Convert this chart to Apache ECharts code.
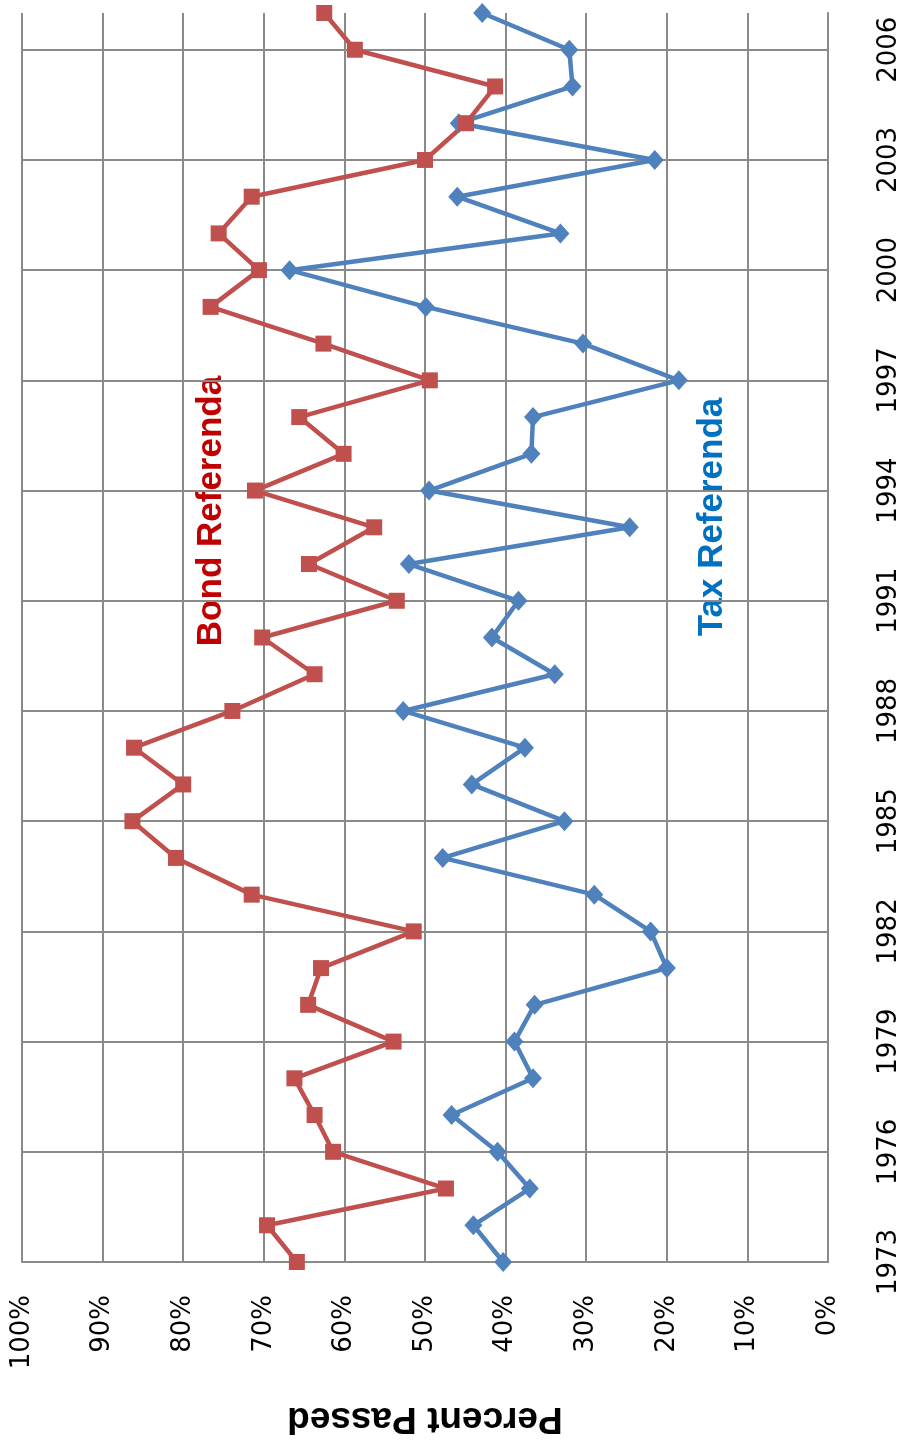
<!DOCTYPE html>
<html>
<head>
<meta charset="utf-8">
<title>Percent Passed: Bond and Tax Referenda</title>
<script src="https://cdn.jsdelivr.net/npm/echarts@6/dist/echarts.min.js"></script>
<style>
  html, body { margin: 0; padding: 0; background: #ffffff; }
  #chart { width: 909px; height: 1445px; }
</style>
</head>
<body>
<div id="chart"></div>
<script>
// Election years, oldest first (drawn bottom to top)
const years = [
  '1973','1974','1975','1976','1977','1978','1979','1980','1981','1982',
  '1983','1984','1985','1986','1987','1988','1989','1990','1991','1992',
  '1993','1994','1995','1996','1997','1998','1999','2000','2001','2002',
  '2003','2004','2005','2006','2007'
];

// Share of bond referenda that passed, percent
const bondPassed = [
  65.9, 69.6, 47.4, 61.4, 63.7, 66.2, 53.9, 64.5, 62.9, 51.4,
  71.5, 80.9, 86.3, 80.0, 86.1, 73.9, 63.7, 70.2, 53.5, 64.4,
  56.3, 71.1, 60.1, 65.6, 49.4, 62.6, 76.6, 70.6, 75.6, 71.5,
  50.0, 44.9, 41.3, 58.7, 62.5
];

// Share of tax referenda that passed, percent
const taxPassed = [
  40.3, 44.0, 37.0, 41.0, 46.7, 36.6, 38.9, 36.4, 20.0, 22.0,
  29.0, 47.8, 32.7, 44.2, 37.6, 52.7, 33.9, 41.7, 38.4, 52.0,
  24.6, 49.5, 36.8, 36.6, 18.5, 30.4, 49.9, 66.8, 33.2, 46.0,
  21.5, 45.8, 31.7, 32.1, 42.9
];

const seriesNames = ['Tax Referenda', 'Bond Referenda'];
const axisTitle = 'Percent Passed';

const gridColor = '#8a8a8a';
const tickFont = 'DejaVu Sans';

const chart = echarts.init(document.getElementById('chart'), null, { renderer: 'canvas' });

const option = {
  animation: false,
  backgroundColor: '#ffffff',
  grid: {
    left: 22, right: 81, top: 13, bottom: 183,
    containLabel: false,
    outerBoundsMode: 'none'
  },
  xAxis: {
    type: 'value',
    min: 0,
    max: 100,
    interval: 10,
    inverse: true,
    position: 'bottom',
    name: axisTitle,
    nameLocation: 'middle',
    nameRotate: 180,
    nameGap: 138,
    nameTextStyle: {
      fontFamily: 'Liberation Sans',
      fontWeight: 'bold',
      fontSize: 37,
      color: '#000000'
    },
    axisLine: { show: true, lineStyle: { color: gridColor, width: 2 } },
    axisTick: { show: false },
    axisLabel: {
      rotate: 90,
      margin: 33,
      formatter: '{value}%',
      fontFamily: tickFont,
      fontSize: 26,
      color: '#000000'
    },
    splitLine: { show: true, lineStyle: { color: gridColor, width: 2 } }
  },
  yAxis: {
    type: 'category',
    data: years,
    boundaryGap: false,
    position: 'right',
    axisLine: { show: true, onZero: false, lineStyle: { color: gridColor, width: 2 } },
    axisTick: { show: false },
    axisLabel: {
      interval: 2,
      rotate: 90,
      margin: 48,
      fontFamily: tickFont,
      fontSize: 26,
      color: '#000000'
    },
    splitLine: { show: true, interval: 2, lineStyle: { color: gridColor, width: 2 } }
  },
  series: [
    {
      name: seriesNames[0],
      type: 'line',
      data: taxPassed,
      symbol: 'diamond',
      symbolSize: [18, 20],
      lineStyle: { color: '#4F81BD', width: 4.5 },
      itemStyle: { color: '#4F81BD' },
      clip: false
    },
    {
      name: seriesNames[1],
      type: 'line',
      data: bondPassed,
      symbol: 'rect',
      symbolSize: 16,
      lineStyle: { color: '#C0504D', width: 4.5 },
      itemStyle: { color: '#C0504D' },
      clip: false
    }
  ],
  graphic: [
    {
      type: 'text',
      x: 211,
      y: 511,
      rotation: Math.PI / 2,
      style: {
        text: seriesNames[1],
        x: 0,
        y: 0,
        align: 'center',
        verticalAlign: 'middle',
        fontFamily: 'Liberation Sans',
        fontWeight: 'bold',
        fontSize: 35,
        fill: '#C00000'
      }
    },
    {
      type: 'text',
      x: 712,
      y: 517,
      rotation: Math.PI / 2,
      style: {
        text: seriesNames[0],
        x: 0,
        y: 0,
        align: 'center',
        verticalAlign: 'middle',
        fontFamily: 'Liberation Sans',
        fontWeight: 'bold',
        fontSize: 35,
        fill: '#0070C0'
      }
    }
  ]
};

chart.setOption(option);
</script>
</body>
</html>
